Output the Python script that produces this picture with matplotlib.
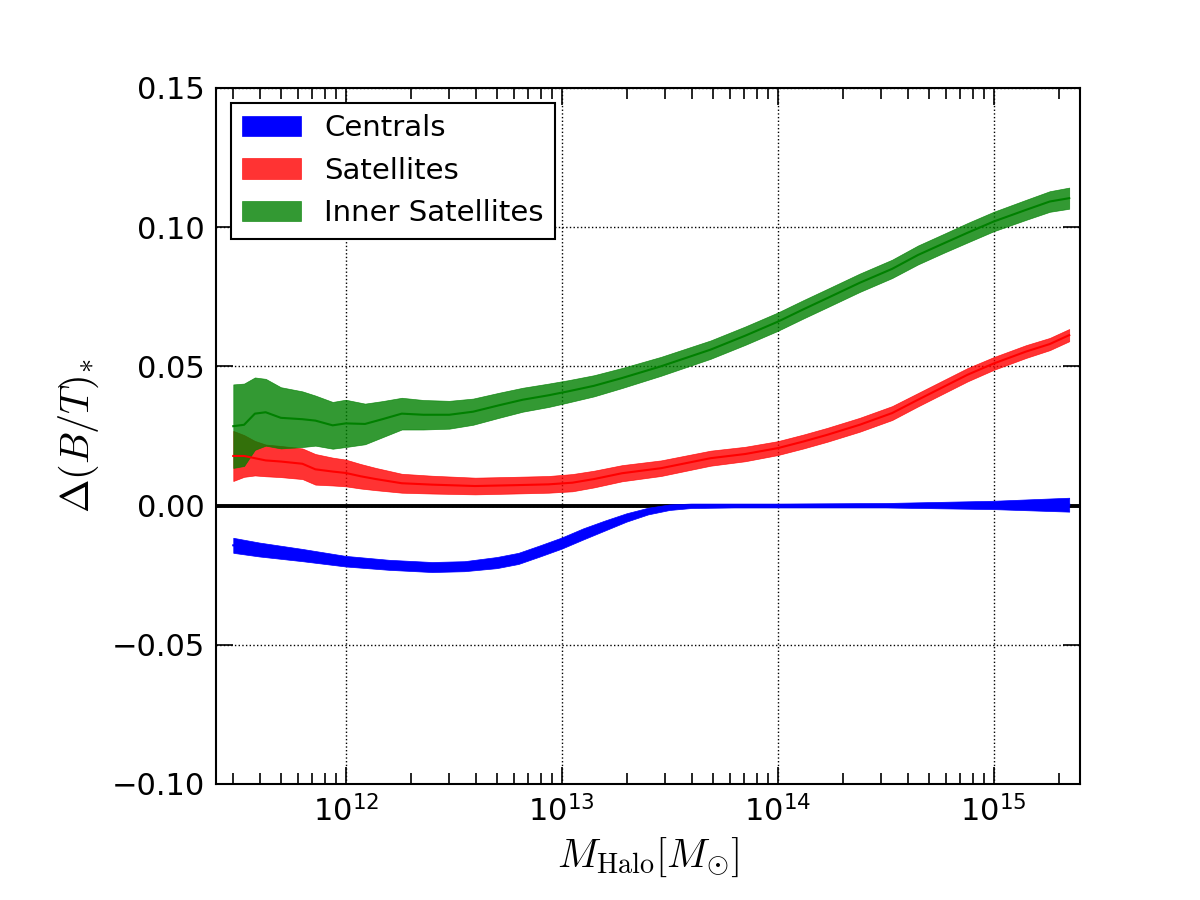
import numpy as np
import matplotlib
matplotlib.use('Agg')
import matplotlib.pyplot as plt

# log10(M_halo) sample points and Delta(B/T) values
cen_logm = [11.48, 11.6, 11.8, 12.0, 12.2, 12.4, 12.55, 12.7, 12.8, 12.9, 13.0, 13.1,
            13.2, 13.3, 13.4, 13.5, 13.6, 13.8, 14.0, 14.5, 15.0, 15.35]
cen_mean = [-0.0143, -0.0158, -0.0178, -0.0200, -0.0213, -0.0221, -0.0218, -0.0205, -0.0190,
            -0.0163, -0.0135, -0.0102, -0.0072, -0.0043, -0.0020, -0.0006, -0.0001, 0.0,
            0.0, 0.0001, 0.0002, 0.0003]
cen_err = [0.0027, 0.0025, 0.0022, 0.0019, 0.0018, 0.0018, 0.0018, 0.0020, 0.0020, 0.0020,
           0.0020, 0.0020, 0.0018, 0.0015, 0.0012, 0.0010, 0.0008, 0.0007, 0.0007, 0.0008,
           0.0015, 0.0025]

sat_logm = [11.48, 11.53, 11.58, 11.63, 11.70, 11.80, 11.86, 11.94, 12.00, 12.07, 12.14,
            12.26, 12.40, 12.60, 12.78, 12.94, 13.05, 13.15, 13.28, 13.46, 13.69, 13.85,
            14.00, 14.12, 14.23, 14.38, 14.53, 14.65, 14.77, 14.88, 15.00, 15.15, 15.26, 15.35]
sat_mean = [0.0178, 0.0178, 0.0170, 0.0162, 0.0158, 0.0150, 0.0130, 0.0122, 0.0117, 0.0105,
            0.0095, 0.0080, 0.0075, 0.0070, 0.0073, 0.0076, 0.0082, 0.0095, 0.0116, 0.0134,
            0.0170, 0.0185, 0.0206, 0.0230, 0.0254, 0.0290, 0.0332, 0.0380, 0.0427, 0.0470,
            0.0510, 0.0553, 0.0580, 0.0612]
sat_err = [0.0090, 0.0075, 0.0062, 0.0057, 0.0056, 0.0055, 0.0055, 0.0050, 0.0048, 0.0044,
           0.0040, 0.0034, 0.0032, 0.0030, 0.0030, 0.0030, 0.0031, 0.0030, 0.0029, 0.0028,
           0.0027, 0.0026, 0.0025, 0.0025, 0.0025, 0.0025, 0.0025, 0.0024, 0.0024, 0.0024,
           0.0023, 0.0023, 0.0022, 0.0022]

inn_logm = [11.48, 11.53, 11.58, 11.63, 11.70, 11.80, 11.86, 11.94, 12.00, 12.09, 12.17,
            12.26, 12.36, 12.48, 12.59, 12.71, 12.82, 12.94, 13.03, 13.15, 13.28, 13.46,
            13.69, 13.85, 14.00, 14.12, 14.23, 14.38, 14.53, 14.65, 14.77, 14.88, 15.00,
            15.15, 15.26, 15.35]
inn_mean = [0.0285, 0.0290, 0.0330, 0.0335, 0.0315, 0.0310, 0.0305, 0.0288, 0.0295, 0.0293,
            0.0310, 0.0330, 0.0326, 0.0326, 0.0337, 0.0360, 0.0380, 0.0396, 0.0410, 0.0430,
            0.0458, 0.0500, 0.0560, 0.0610, 0.0660, 0.0705, 0.0745, 0.0800, 0.0850, 0.0900,
            0.0942, 0.0980, 0.1020, 0.1062, 0.1092, 0.1104]
inn_err = [0.0150, 0.0148, 0.0130, 0.0120, 0.0110, 0.0100, 0.0090, 0.0084, 0.0085, 0.0073,
           0.0065, 0.0057, 0.0053, 0.0050, 0.0047, 0.0045, 0.0043, 0.0042, 0.0040, 0.0038,
           0.0036, 0.0034, 0.0033, 0.0033, 0.0033, 0.0033, 0.0033, 0.0033, 0.0033, 0.0034,
           0.0034, 0.0035, 0.0035, 0.0036, 0.0037, 0.0038]

plt.rcParams['font.family'] = ['DejaVu Sans']
plt.rcParams['mathtext.fontset'] = 'dejavusans'
plt.rcParams['xtick.direction'] = 'in'
plt.rcParams['ytick.direction'] = 'in'
plt.rcParams['xtick.top'] = True
plt.rcParams['ytick.right'] = True
plt.rcParams['xtick.major.size'] = 12
plt.rcParams['ytick.major.size'] = 12
plt.rcParams['xtick.minor.size'] = 8
plt.rcParams['ytick.minor.size'] = 8
plt.rcParams['xtick.major.width'] = 1.2
plt.rcParams['ytick.major.width'] = 1.2
plt.rcParams['xtick.minor.width'] = 1.2
plt.rcParams['xtick.major.pad'] = 8
plt.rcParams['ytick.major.pad'] = 8


def band(ax, logm, mean, err, color, alpha, label):
    x = 10 ** np.array(logm)
    m = np.array(mean)
    e = np.array(err)
    ax.fill_between(x, m - e, m + e, facecolor=color, edgecolor=color,
                    linewidth=0.5, alpha=alpha, label=label, zorder=2)
    return x, m, color


fig = plt.figure(figsize=(12, 9), dpi=100)
ax = fig.add_axes([0.18, 0.129, 0.72, 0.7733])

ax.axhline(0, color='k', lw=2.8, zorder=1)

lines = [band(ax, cen_logm, cen_mean, cen_err, 'b', 1.0, 'Centrals'),
         band(ax, sat_logm, sat_mean, sat_err, 'r', 0.8, 'Satellites'),
         band(ax, inn_logm, inn_mean, inn_err, 'g', 0.8, 'Inner Satellites')]
for x, m, c in lines:
    ax.plot(x, m, color=c, lw=1.5, zorder=3)

ax.set_xscale('log')
ax.set_xlim(10 ** 11.4, 10 ** 15.4)
ax.set_ylim(-0.10, 0.15)
ax.set_yticks([-0.10, -0.05, 0.00, 0.05, 0.10, 0.15])
ax.set_yticklabels(['\u22120.10', '\u22120.05', '0.00', '0.05', '0.10', '0.15'])
ax.tick_params(labelsize=22)
ax.grid(True, which='major', ls=':', color='k', lw=1.0)

for s in ax.spines.values():
    s.set_linewidth(1.5)

ax.set_xlabel(r'$M_{\rm Halo} [M_{\odot}]$', fontsize=29, math_fontfamily='cm', labelpad=6)
ax.set_ylabel(r'$\Delta(B/T)_{*}$', fontsize=29, math_fontfamily='cm', labelpad=8)

leg = ax.legend(loc='upper left', fontsize=21, fancybox=False, framealpha=1,
                edgecolor='k', borderaxespad=0.5)
leg.get_frame().set_linewidth(1.5)

fig.savefig('out.png', dpi=100)
